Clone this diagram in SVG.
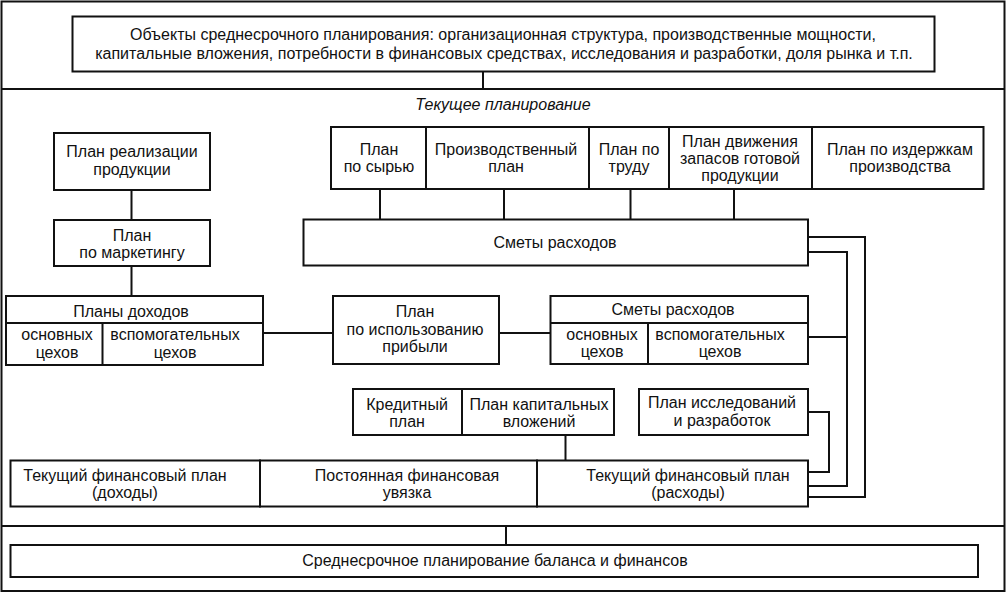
<svg xmlns="http://www.w3.org/2000/svg" width="1007" height="593" viewBox="0 0 1007 593">
<style>
.b{fill:#fff;stroke:#111;stroke-width:2}
.l{fill:none;stroke:#111;stroke-width:2}
text{font-family:"Liberation Sans",Arial,sans-serif;font-size:16px;fill:#111;text-anchor:middle}
.it{font-style:italic}
.tp{font-size:16px}
</style>
<rect x="0" y="0" width="1007" height="593" fill="#fff"/>
<g id="frame">
<rect x="1.5" y="1.5" width="1003" height="589.5" class="l"/>
<line x1="1" y1="89" x2="1005" y2="89" class="l"/>
<line x1="1" y1="526" x2="1005" y2="526" class="l"/>
<text x="503" y="110" class="it">Текущее планирование</text>
</g>
<g id="connectors">
<path class="l" d="M483 72V89"/>
<path class="l" d="M131.5 190V220M131.5 266V296"/>
<path class="l" d="M263 333H333M499 333H550"/>
<path class="l" d="M380 189V219M504 189V219M630.5 189V219M734 189V219"/>
<path class="l" d="M808 237H865V497H808M808 252H847V486H808M808 337H847"/>
<path class="l" d="M808 412H829V472H808"/>
<path class="l" d="M565.5 435V460.5"/>
<path class="l" d="M506 526V545"/>
</g>
<g id="objects">
<rect class="b" x="72.5" y="16.5" width="862" height="55"/>
<text class="tp" x="503" y="40">Объекты среднесрочного планирования: организационная структура, производственные мощности,</text>
<text class="tp" x="504" y="58.5">капитальные вложения, потребности в финансовых средствах, исследования и разработки, доля рынка и т.п.</text>
</g>
<g id="sales">
<rect class="b" x="54" y="133" width="156" height="57"/>
<text x="132" y="157">План реализации</text>
<text x="132" y="175">продукции</text>
</g>
<g id="marketing">
<rect class="b" x="54" y="220" width="156" height="46"/>
<text x="132" y="240.5">План</text>
<text x="132" y="257.5">по маркетингу</text>
</g>
<g id="income">
<rect class="b" x="6" y="296" width="257" height="69"/>
<path class="l" d="M6 323H263M102.5 323V365"/>
<text x="131" y="316.5">Планы доходов</text>
<text x="57" y="340">основных</text>
<text x="57" y="357.5">цехов</text>
<text x="175" y="340">вспомогательных</text>
<text x="175" y="357.5">цехов</text>
</g>
<g id="profit">
<rect class="b" x="333" y="296" width="166" height="68"/>
<text x="415" y="317">План</text>
<text x="415" y="334.5">по использованию</text>
<text x="415" y="351.5">прибыли</text>
</g>
<g id="costs2">
<rect class="b" x="550.5" y="296" width="257.5" height="68"/>
<path class="l" d="M550.5 323H808M648 323V364"/>
<text x="673" y="314.5">Сметы расходов</text>
<text x="602" y="340">основных</text>
<text x="602" y="357">цехов</text>
<text x="720" y="340">вспомогательных</text>
<text x="720" y="357">цехов</text>
</g>
<g id="raw">
<rect class="b" x="331" y="127" width="95" height="62"/>
<text x="379" y="155">План</text>
<text x="379" y="172">по сырью</text>
</g>
<g id="production">
<rect class="b" x="426" y="127" width="163" height="62"/>
<text x="506" y="155">Производственный</text>
<text x="506" y="172">план</text>
</g>
<g id="labor">
<rect class="b" x="589" y="127" width="80" height="62"/>
<text x="629" y="155">План по</text>
<text x="629" y="172">труду</text>
</g>
<g id="stock">
<rect class="b" x="669" y="127" width="143" height="62"/>
<text x="740" y="147">План движения</text>
<text x="740" y="164">запасов готовой</text>
<text x="740" y="181">продукции</text>
</g>
<g id="costplan">
<rect class="b" x="812" y="127" width="171.5" height="62"/>
<text x="900" y="155">План по издержкам</text>
<text x="900" y="172">производства</text>
</g>
<g id="costs1">
<rect class="b" x="303.5" y="219.5" width="504.5" height="46"/>
<text x="555" y="248">Сметы расходов</text>
</g>
<g id="credit">
<rect class="b" x="353" y="389" width="109" height="46"/>
<text x="407" y="409.5">Кредитный</text>
<text x="407" y="427">план</text>
</g>
<g id="capital">
<rect class="b" x="462" y="389" width="152" height="46"/>
<text x="539" y="409.5">План капитальных</text>
<text x="539" y="427">вложений</text>
</g>
<g id="rnd">
<rect class="b" x="639" y="389" width="169" height="46"/>
<text x="722" y="408">План исследований</text>
<text x="722" y="425.5">и разработок</text>
</g>
<g id="fin_income">
<rect class="b" x="10.5" y="460.5" width="249.5" height="46"/>
<text x="125" y="480.5">Текущий финансовый план</text>
<text x="125" y="498">(доходы)</text>
</g>
<g id="fin_link">
<rect class="b" x="260" y="460.5" width="277" height="46"/>
<text x="407" y="480.5">Постоянная финансовая</text>
<text x="407" y="498">увязка</text>
</g>
<g id="fin_costs">
<rect class="b" x="537" y="460.5" width="271" height="46"/>
<text x="688" y="480.5">Текущий финансовый план</text>
<text x="688" y="498">(расходы)</text>
</g>
<g id="balance">
<rect class="b" x="10.5" y="545" width="967.5" height="32"/>
<text x="495" y="566">Среднесрочное планирование баланса и финансов</text>
</g>
</svg>
